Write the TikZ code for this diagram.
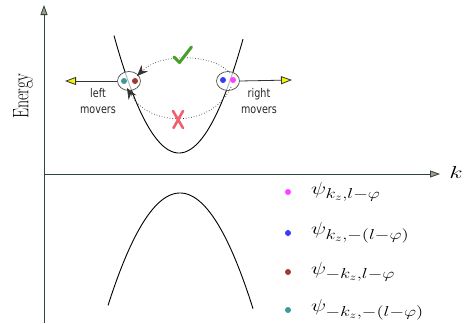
\documentclass[tikz,border=0pt]{standalone}
\usepackage{fontspec}
\newfontfamily\labelfont{DejaVu Sans}
\usetikzlibrary{arrows.meta,shapes.geometric}
\DeclareMathSizes{17}{17}{14}{10}
\definecolor{axiscol}{HTML}{34463A}
\definecolor{tipgray}{HTML}{A09A90}
\definecolor{tipyellow}{HTML}{F5F500}
\definecolor{cmag}{HTML}{FF40FF}
\definecolor{cblue}{HTML}{3A3AFF}
\definecolor{cmaroon}{HTML}{A03838}
\definecolor{cteal}{HTML}{3A9A98}
\definecolor{cgreen}{HTML}{4A9E2A}
\definecolor{cred}{HTML}{F06070}
\newcommand{\widetext}[1]{\scalebox{1.42}[1]{#1}}
\newcommand{\legendwide}[1]{\scalebox{1.3}[1]{#1}}
\newcommand{\narrowtext}[1]{\scalebox{0.8}[1]{#1}}
\tikzset{
  axis/.style={draw=axiscol, line width=0.8pt, -{Triangle[length=10pt,width=7pt,fill=tipgray]}},
  curve/.style={draw=black, line width=0.9pt},
  moverbox/.style={ellipse, draw=black!70, line width=0.7pt, fill=white, fill opacity=0.7, minimum width=23pt, minimum height=19pt, inner sep=0pt},
  moverarrow/.style={draw=black!80, line width=0.8pt, -{Triangle[length=11pt,width=8pt,fill=tipyellow]}},
  dot/.style={circle, inner sep=0pt, minimum size=6pt},
  scatter/.style={draw=black!80, line width=0.7pt, dotted, -{Stealth[length=11pt,width=9pt]}},
  movertext/.style={font=\labelfont\fontsize{12}{15.5}\selectfont, align=center, text=black!85},
  legendtext/.style={anchor=west, font=\fontsize{17}{20}\selectfont, inner sep=0pt},
}
\begin{document}
\begin{tikzpicture}[x=1pt,y=-1pt]
\useasboundingbox (0,0) rectangle (469,324);
% axes
\coordinate (o) at (44,174);
\coordinate (ytop) at (44,5);
\coordinate (ybot) at (44,323);
\coordinate (xend) at (440,174);
\draw[axis] (ybot) -- (ytop);
\draw[axis] (o) -- (xend);
\node[font=\fontsize{18}{20}\selectfont] (k) at (456,172) {\widetext{$k$}};
\node[rotate=90, font=\fontsize{16}{18}\selectfont] (energy) at (23,96) {\scalebox{1}[1.4]{Energy}};
% bands
\draw[curve] plot[domain=-65:64, samples=80] ({179+\x},{153-0.0278*\x*\x});
\draw[curve] plot[domain=-72:73, samples=80] ({180+\x},{193+0.0217*\x*\x});
% movers
\node[moverbox] (L) at (129,81) {};
\node[moverbox] (R) at (228,81) {};
\node[dot, fill=cteal] (Lt) at (124,81) {};
\node[dot, fill=cmaroon] (Lm) at (135,81) {};
\node[dot, fill=cblue] (Rb) at (223,80) {};
\node[dot, fill=cmag] (Rm) at (233,80) {};
\coordinate (lend) at (65,81);
\coordinate (rend) at (292,80);
\draw[moverarrow] (L.west) -- (lend);
\draw[moverarrow] (R.east) -- (rend);
\node[movertext] (ltext) at (98,101) {\narrowtext{left}\\\narrowtext{movers}};
\node[movertext] (rtext) at (259,101) {\narrowtext{right}\\\narrowtext{movers}};
% scattering
\coordinate (ts) at (230,73);
\coordinate (te) at (137,76);
\coordinate (bs) at (231,87);
\coordinate (be) at (127,88);
\draw[scatter] (ts) .. controls (212,53) and (160,53) .. (te);
\draw[scatter] (bs) .. controls (212,128) and (150,128) .. (be);
% check and cross
\draw[cgreen, line width=3pt, line cap=round, line join=round] (174,57) -- (179.5,62.5) -- (191.5,47);
\draw[cred, line width=2.6pt, line cap=round] (173,111) -- (183,128) (183,111) -- (173.5,128);
% legend
\node[dot, fill=cmag] (d1) at (288,192) {};
\node[dot, fill=cblue] (d2) at (288,233) {};
\node[dot, fill=cmaroon] (d3) at (288,272) {};
\node[dot, fill=cteal] (d4) at (288,310) {};
\node[legendtext] (t1) at (311,192) {\legendwide{$\psi_{k_z,l-\varphi}$}};
\node[legendtext] (t2) at (311,233) {\legendwide{$\psi_{k_z,-(l-\varphi)}$}};
\node[legendtext] (t3) at (311,272) {\legendwide{$\psi_{-k_z,l-\varphi}$}};
\node[legendtext] (t4) at (311,310) {\legendwide{$\psi_{-k_z,-(l-\varphi)}$}};
\end{tikzpicture}
\end{document}
